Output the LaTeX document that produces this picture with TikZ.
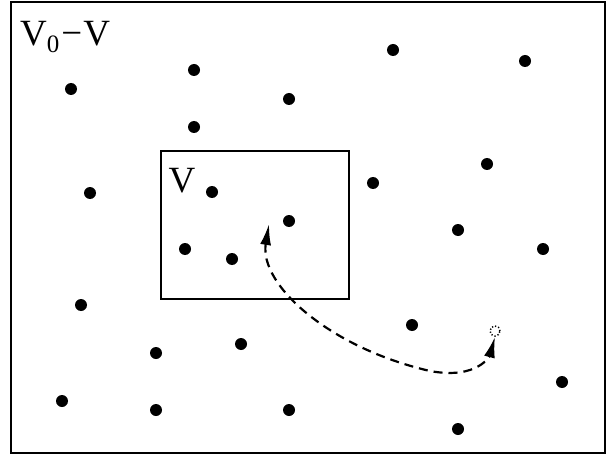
\documentclass[tikz,border=0pt]{standalone}
\usepackage{fontspec}
\setmainfont{Liberation Serif}
\usetikzlibrary{arrows.meta}
\begin{document}
\begin{tikzpicture}[x=1pt, y=-1pt]
    \useasboundingbox (0,0) rectangle (607,457);

    % Outer region
    \draw[line width=2pt] (11,2) rectangle (605,453);
    \node[anchor=west, font=\fontsize{37}{39}\selectfont, inner sep=0pt] (outer) at (20,37)
        {V\raisebox{-0.2em}{\fontsize{25}{25}\selectfont 0}\kern2pt−\kern1pt V};

    % Sub-volume
    \draw[line width=2.8pt] (161,151) rectangle (349,299);
    \node[font=\fontsize{37}{39}\selectfont, inner sep=0pt] (inner) at (182,181) {V};

    % Particles
    \foreach \px/\py in {71/89, 194/70, 289/99, 393/50, 525/61, 194/127,
                         90/193, 212/192, 289/221, 373/183, 487/164,
                         185/249, 232/259, 458/230, 543/249,
                         81/305, 412/325, 241/344, 156/353, 562/382,
                         62/401, 156/410, 289/410, 458/429}
        \fill (\px,\py) circle (6pt);

    % Particle leaving and re-entering
    \node[circle, draw, dash pattern=on 1.2pt off 2pt, line width=1.5pt, minimum size=10pt, inner sep=0pt] (ghost) at (495,331) {};
    \coordinate (entry) at (269,224);
    \draw[line width=2.2pt, dash pattern=on 9pt off 6pt,
          {Latex[length=21pt,width=11pt]}-{Latex[length=21pt,width=11pt]}]
        (entry) .. controls (259,285) and (330,348) .. (430,371)
                .. controls (478,380) and (490,355) .. (ghost.south);
\end{tikzpicture}
\end{document}
